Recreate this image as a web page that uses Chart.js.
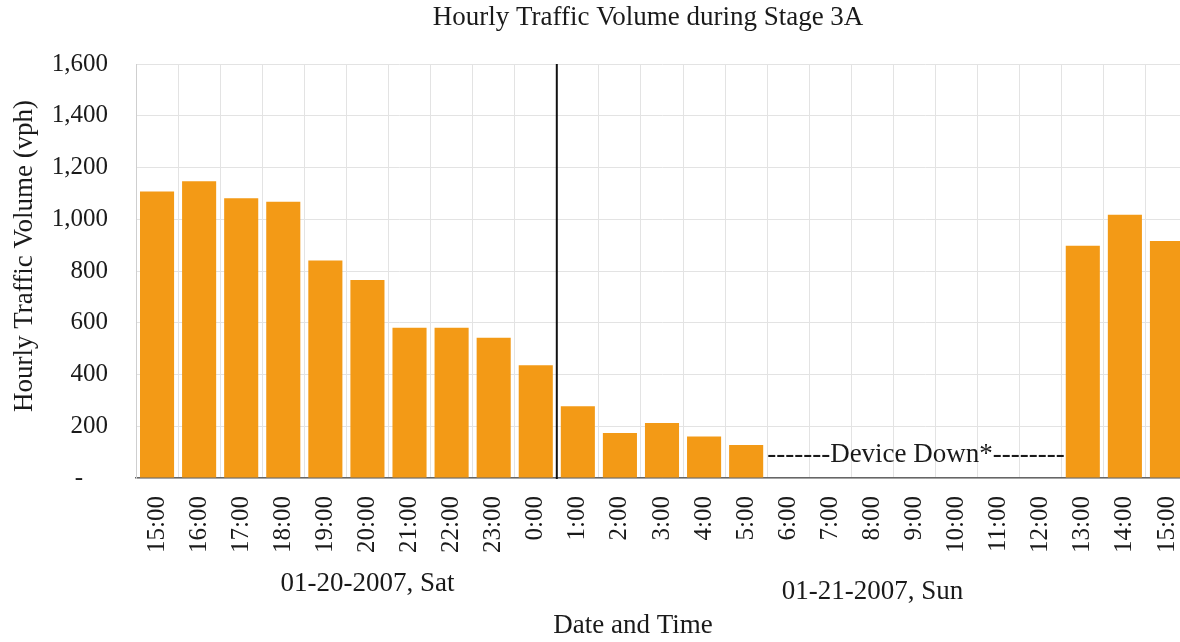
<!DOCTYPE html>
<html>
<head>
<meta charset="utf-8">
<script src="https://cdn.jsdelivr.net/npm/chart.js@4.4.1/dist/chart.umd.min.js"></script>
<style>
  html, body { margin: 0; padding: 0; background: #ffffff; overflow: hidden; }
  #wrap { width: 1190px; height: 642px; }
</style>
</head>
<body>
<div id="wrap"><canvas id="c" width="1190" height="642"></canvas></div>
<script>
// ---- data ----
const hourLabels = ['15:00','16:00','17:00','18:00','19:00','20:00','21:00','22:00','23:00','0:00',
                    '1:00','2:00','3:00','4:00','5:00','6:00','7:00','8:00','9:00','10:00',
                    '11:00','12:00','13:00','14:00','15:00'];
const volumes = [1107,1147,1081,1068,841,765,581,581,542,436,
                 277,174,213,160,128,null,null,null,null,null,
                 null,null,898,1017,916];
const yTicks = [0,200,400,600,800,1000,1200,1400,1600];
const dayGroups = [
  { label: '01-20-2007, Sat', at: 5 },
  { label: '01-21-2007, Sun', at: 17 }
];
const dayBreakAfter = 9;          // separator between 0:00 and 1:00
const deviceDownText = '-------Device Down*--------';
const deviceDownStart = 15;       // first missing hour (6:00)
const deviceDownLevel = 89;
const titleText = 'Hourly Traffic Volume during Stage 3A';
const yTitleText = 'Hourly Traffic Volume (vph)';
const xTitleText = 'Date and Time';

const SERIF = '"Liberation Serif", "Times New Roman", serif';
const INK = '#1a1a1a';

const overlay = {
  id: 'overlay',
  afterDraw(chart) {
    const ctx = chart.ctx;
    const x = chart.scales.x, y = chart.scales.y;
    const area = chart.chartArea;
    const half = (x.getPixelForValue(1) - x.getPixelForValue(0)) / 2;
    ctx.save();
    // day separator
    const sx = (x.getPixelForValue(dayBreakAfter) + x.getPixelForValue(dayBreakAfter + 1)) / 2;
    ctx.strokeStyle = '#111';
    ctx.lineWidth = 2;
    ctx.beginPath();
    ctx.moveTo(sx, area.top);
    ctx.lineTo(sx, area.bottom + 1);
    ctx.stroke();

    ctx.fillStyle = INK;
    // device down note
    ctx.font = '27px ' + SERIF;
    ctx.textAlign = 'left';
    ctx.textBaseline = 'middle';
    ctx.fillText(deviceDownText, x.getPixelForValue(deviceDownStart) - half, y.getPixelForValue(deviceDownLevel));

    // title
    ctx.textAlign = 'center';
    ctx.font = '27px ' + SERIF;
    ctx.fillText(titleText, 648, 18);

    // day group labels
    ctx.fillText(dayGroups[0].label, x.getPixelForValue(dayGroups[0].at), 584);
    ctx.fillText(dayGroups[1].label, x.getPixelForValue(dayGroups[1].at), 592);

    // x title
    ctx.fillText(xTitleText, 633, 626);

    // y title
    ctx.translate(25, 256);
    ctx.rotate(-Math.PI / 2);
    ctx.fillText(yTitleText, 0, 0);
    ctx.restore();
  }
};

new Chart(document.getElementById('c'), {
  type: 'bar',
  data: {
    labels: hourLabels,
    datasets: [{
      data: volumes,
      backgroundColor: '#F39A16',
      borderWidth: 0,
      barPercentage: 0.81,
      categoryPercentage: 1.0
    }]
  },
  options: {
    responsive: false,
    animation: false,
    events: [],
    layout: { padding: { top: 64, left: 0, right: 2, bottom: 0 } },
    plugins: {
      legend: { display: false },
      title: { display: false },
      tooltip: { enabled: false }
    },
    scales: {
      x: {
        offset: true,
        grid: { color: '#e3e3e3', lineWidth: 1, drawTicks: false, offset: true },
        border: { color: '#666666', width: 1.5 },
        ticks: {
          color: INK,
          font: { family: SERIF, size: 25 },
          minRotation: 90,
          maxRotation: 90,
          autoSkip: false,
          padding: 18
        },
        afterFit(scale) {
          scale.height = 164;
          scale.paddingLeft = 0;
          scale.paddingRight = 0;
        }
      },
      y: {
        min: 0,
        max: 1600,
        afterBuildTicks(scale) { scale.ticks = yTicks.map(v => ({ value: v })); },
        grid: { color: '#e3e3e3', lineWidth: 1, drawTicks: false },
        border: { color: '#cfcfcf', width: 1 },
        ticks: {
          color: INK,
          font: { family: SERIF, size: 25 },
          padding: 28,
          callback(v) { return v === 0 ? '-    ' : v.toLocaleString('en-US'); }
        },
        afterFit(scale) {
          scale.width = 136;
          scale.paddingTop = 0;
          scale.paddingBottom = 0;
        }
      }
    }
  },
  plugins: [overlay]
});
</script>
</body>
</html>
